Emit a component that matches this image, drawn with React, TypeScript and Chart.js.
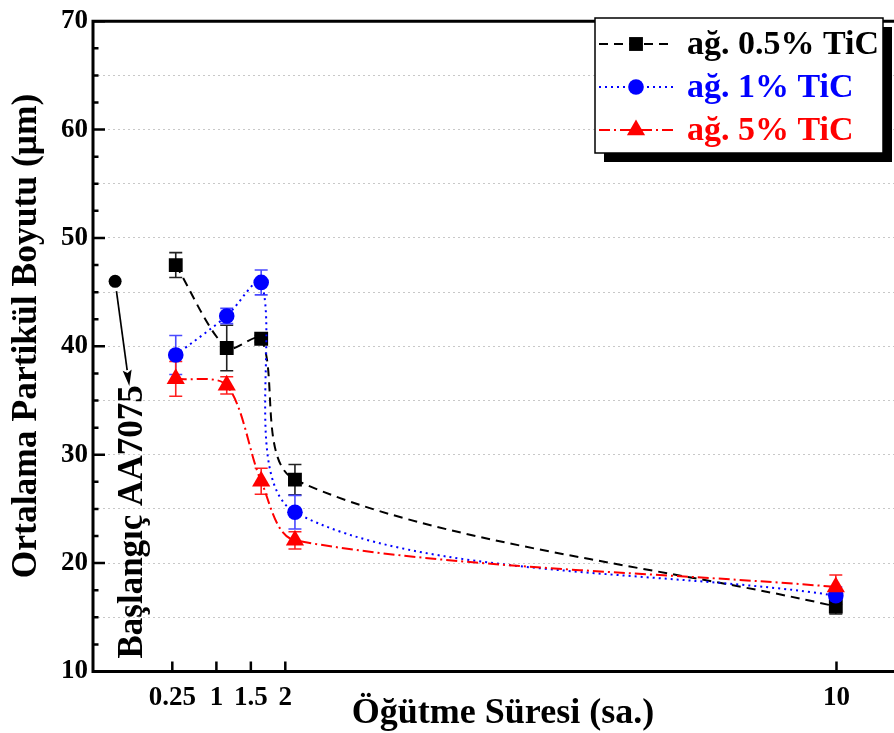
import React, { useEffect, useRef } from 'react';
import { Chart, registerables } from 'chart.js';

Chart.register(...registerables);

// ---- data ----
const seriesNames = ['ağ. 0.5% TiC', 'ağ. 1% TiC', 'ağ. 5% TiC'];
const xValues = [0.41, 1.15, 1.65, 2.14, 9.99];
const tic05 = [47.5, 39.85, 40.7, 27.7, 16.0];
const tic05Err = [1.15, 2.1, 0.3, 1.4, 0.7];
const tic1 = [39.2, 42.8, 45.9, 24.7, 17.0];
const tic1Err = [1.8, 0.7, 1.15, 1.55, 0.8];
const tic5 = [37.0, 36.4, 27.55, 22.1, 17.8];
const tic5Err = [1.6, 0.8, 1.2, 0.8, 1.1];
const startX = [-0.47];
const startY = [46.0];
const startLabel = 'Başlangıç AA7075';
const xTickValues = [0.36, 1, 1.5, 2, 10];
const xTickLabels = ['0.25', '1', '1.5', '2', '10'];
const xTitle = 'Öğütme Süresi (sa.)';
const yTitle = 'Ortalama Partikül Boyutu (μm)';

// ---- styles ----
const FONT = "'Liberation Serif', 'Times New Roman', serif";
const colors = ['#000000', '#0000ff', '#ff0000'];
const errColors = ['#222222', '#4a4aff', '#ff2020'];
const dashes = [[9, 6], [2, 4], [11, 4, 2, 4]];
const markers = ['rect', 'circle', 'triangle'];
const markerRadius = [9.8, 7.8, 10.5];
const seriesValues = [tic05, tic1, tic5];
const seriesErrs = [tic05Err, tic1Err, tic5Err];

function drawMarker(ctx: CanvasRenderingContext2D, style: string, x: number, y: number, r: number, color: string) {
  ctx.save();
  ctx.fillStyle = color;
  ctx.beginPath();
  if (style === 'rect') {
    const s = Math.SQRT1_2 * r;
    ctx.rect(x - s, y - s, 2 * s, 2 * s);
  } else if (style === 'circle') {
    ctx.arc(x, y, r, 0, Math.PI * 2);
  } else {
    let rad = 0;
    ctx.moveTo(x + Math.sin(rad) * r, y - Math.cos(rad) * r);
    rad += (2 * Math.PI) / 3;
    ctx.lineTo(x + Math.sin(rad) * r, y - Math.cos(rad) * r);
    rad += (2 * Math.PI) / 3;
    ctx.lineTo(x + Math.sin(rad) * r, y - Math.cos(rad) * r);
    ctx.closePath();
  }
  ctx.fill();
  ctx.restore();
}

const decorPlugin = {
  id: 'decor',
  beforeDatasetsDraw(chart: any) {
    const ctx: CanvasRenderingContext2D = chart.ctx;
    const ys = chart.scales.y;
    chart.data.datasets.forEach((ds: any, i: number) => {
      if (!ds.errors) return;
      const meta = chart.getDatasetMeta(i);
      ctx.save();
      ctx.strokeStyle = ds.errColor;
      ctx.lineWidth = 1.6;
      ctx.setLineDash([]);
      meta.data.forEach((el: any, j: number) => {
        const v = ds.data[j].y;
        const e = ds.errors[j];
        const yt = ys.getPixelForValue(v + e);
        const yb = ys.getPixelForValue(v - e);
        const cw = 6.5;
        ctx.beginPath();
        ctx.moveTo(el.x, yt);
        ctx.lineTo(el.x, yb);
        ctx.moveTo(el.x - cw, yt);
        ctx.lineTo(el.x + cw, yt);
        ctx.moveTo(el.x - cw, yb);
        ctx.lineTo(el.x + cw, yb);
        ctx.stroke();
      });
      ctx.restore();
    });
  },
  afterDatasetsDraw(chart: any) {
    const ctx: CanvasRenderingContext2D = chart.ctx;
    const { left, right, top, bottom } = chart.chartArea;
    const xs = chart.scales.x;
    const ys = chart.scales.y;
    ctx.save();
    ctx.setLineDash([]);
    ctx.strokeStyle = '#000';
    // frame (right edge lies outside the visible window)
    ctx.lineWidth = 3;
    ctx.beginPath();
    ctx.moveTo(left, top);
    ctx.lineTo(right + 20, top);
    ctx.moveTo(left, top - 1.5);
    ctx.lineTo(left, bottom + 1.5);
    ctx.moveTo(left - 1.5, bottom);
    ctx.lineTo(right + 20, bottom);
    ctx.stroke();
    // inward ticks
    ctx.lineWidth = 2.5;
    ctx.beginPath();
    for (let v = 10; v <= 70.001; v += 2.5) {
      const y = ys.getPixelForValue(v);
      const len = Math.abs(v % 10) < 1e-6 ? 12 : 5.5;
      ctx.moveTo(left, y);
      ctx.lineTo(left + len, y);
    }
    xTickValues.forEach((v) => {
      const x = xs.getPixelForValue(v);
      ctx.moveTo(x, bottom);
      ctx.lineTo(x, bottom - 10);
    });
    ctx.stroke();

    // axis titles
    ctx.fillStyle = '#000';
    ctx.textAlign = 'center';
    ctx.textBaseline = 'middle';
    ctx.font = `bold 36px ${FONT}`;
    ctx.fillText(xTitle, 503, 714);
    ctx.save();
    ctx.translate(27, 336);
    ctx.rotate(-Math.PI / 2);
    ctx.font = `bold 35.5px ${FONT}`;
    ctx.fillText(yTitle, 0, 0);
    ctx.restore();

    // arrow from the starting point
    const sx = xs.getPixelForValue(startX[0]);
    const sy = ys.getPixelForValue(startY[0]);
    const tx = xs.getPixelForValue(-0.264);
    const ty = ys.getPixelForValue(36.35);
    const ang = Math.atan2(ty - sy, tx - sx);
    const sx0 = sx + Math.cos(ang) * 10;
    const sy0 = sy + Math.sin(ang) * 10;
    const headLen = 16;
    const headW = 4.5;
    const bx = tx - Math.cos(ang) * headLen;
    const by = ty - Math.sin(ang) * headLen;
    ctx.lineWidth = 1.7;
    ctx.beginPath();
    ctx.moveTo(sx0, sy0);
    ctx.lineTo(bx, by);
    ctx.stroke();
    ctx.beginPath();
    ctx.moveTo(tx, ty);
    ctx.lineTo(bx + Math.sin(ang) * headW, by - Math.cos(ang) * headW);
    ctx.lineTo(bx + Math.cos(ang) * 3, by + Math.sin(ang) * 3);
    ctx.lineTo(bx - Math.sin(ang) * headW, by + Math.cos(ang) * headW);
    ctx.closePath();
    ctx.fill();

    // rotated label
    const lx = xs.getPixelForValue(-0.21);
    const ly = ys.getPixelForValue(23.8);
    ctx.translate(lx, ly);
    ctx.rotate(-Math.PI / 2);
    ctx.font = `bold 35px ${FONT}`;
    ctx.textAlign = 'center';
    ctx.textBaseline = 'middle';
    ctx.fillText(startLabel, 0, 0);
    ctx.restore();

    // legend box
    ctx.save();
    const bxL = 595, byT = 18, bw = 288, bh = 135, sh = 9;
    ctx.fillStyle = '#000';
    ctx.fillRect(bxL + sh, byT + bh, bw, sh);
    ctx.fillRect(bxL + bw, byT + sh, sh, bh);
    ctx.fillStyle = '#fff';
    ctx.fillRect(bxL, byT, bw, bh);
    ctx.strokeStyle = '#000';
    ctx.lineWidth = 1.5;
    ctx.strokeRect(bxL, byT, bw, bh);
    const rowY = [44, 87, 130];
    seriesNames.forEach((name, i) => {
      const y = rowY[i];
      ctx.strokeStyle = colors[i];
      ctx.lineWidth = 2;
      ctx.setLineDash(dashes[i]);
      ctx.beginPath();
      ctx.moveTo(599, y);
      ctx.lineTo(673, y);
      ctx.stroke();
      ctx.setLineDash([]);
      drawMarker(ctx, markers[i], 636, y, markerRadius[i], colors[i]);
      ctx.fillStyle = colors[i];
      ctx.font = `bold 34px ${FONT}`;
      ctx.textAlign = 'left';
      ctx.textBaseline = 'middle';
      ctx.fillText(name, 687, y + 1);
    });
    ctx.restore();
  },
};

export default function App() {
  const ref = useRef<HTMLCanvasElement | null>(null);
  useEffect(() => {
    if (!ref.current) return;
    const datasets: any[] = seriesNames.map((name, i) => ({
      label: name,
      data: xValues.map((x, j) => ({ x, y: seriesValues[i][j] })),
      errors: seriesErrs[i],
      errColor: errColors[i],
      showLine: true,
      tension: 0.3,
      borderColor: colors[i],
      backgroundColor: colors[i],
      borderWidth: 2,
      borderDash: dashes[i],
      pointStyle: markers[i],
      pointRadius: markerRadius[i],
      pointBorderWidth: 0,
      pointBackgroundColor: colors[i],
      order: 3 - i,
    }));
    datasets.push({
      label: startLabel,
      data: startX.map((x, j) => ({ x, y: startY[j] })),
      showLine: false,
      pointStyle: 'circle',
      pointRadius: 6.5,
      pointBorderWidth: 0,
      pointBackgroundColor: '#000',
      backgroundColor: '#000',
      order: 5,
    });
    const chart = new Chart(ref.current, {
      type: 'scatter',
      data: { datasets },
      options: {
        responsive: false,
        animation: false,
        devicePixelRatio: 1,
        layout: { padding: { top: 17, right: 11.5, left: 0, bottom: 0 } },
        plugins: { legend: { display: false }, tooltip: { enabled: false } },
        scales: {
          x: {
            type: 'linear',
            min: -0.791,
            max: 10.9,
            afterFit: (s: any) => { s.height = 61.5; },
            afterBuildTicks: (s: any) => { s.ticks = xTickValues.map((v) => ({ value: v })); },
            grid: { display: false, drawTicks: false },
            border: { display: false },
            ticks: {
              autoSkip: false,
              maxRotation: 0,
              padding: 10,
              color: '#000',
              font: { family: FONT, weight: 'bold', size: 27 },
              callback: (v: any) => {
                const i = xTickValues.indexOf(Number(v));
                return i >= 0 ? xTickLabels[i] : '';
              },
            },
            title: { display: false, text: xTitle },
          },
          y: {
            type: 'linear',
            min: 10,
            max: 70,
            afterFit: (s: any) => { s.width = 93; },
            grid: { color: '#c8c8c8', lineWidth: 1, drawTicks: false },
            border: { display: false, dash: [2, 3] },
            ticks: {
              stepSize: 2.5,
              padding: 5,
              color: '#000',
              font: { family: FONT, weight: 'bold', size: 27 },
              callback: (v: any) => (Math.abs(Number(v) % 10) < 1e-6 ? String(v) : ''),
            },
            title: { display: false, text: yTitle },
          },
        },
      } as any,
      plugins: [decorPlugin],
    });
    return () => chart.destroy();
  }, []);
  return (
    <div style={{ position: 'fixed', left: 0, top: 0, width: 894, height: 733, overflow: 'hidden', background: '#fff' }}>
      <canvas ref={ref} width={910} height={733} style={{ width: 910, height: 733, display: 'block', maxWidth: 'none' }} />
    </div>
  );
}
